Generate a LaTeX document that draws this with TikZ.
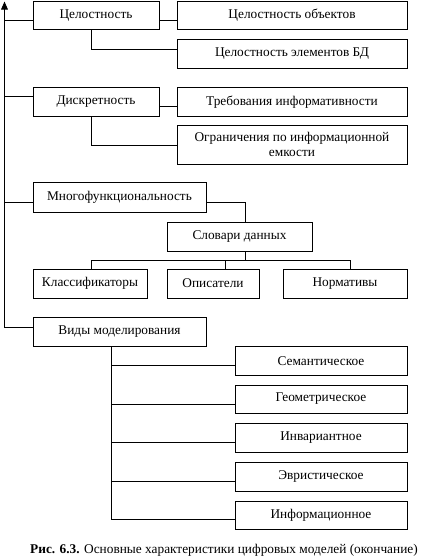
\documentclass[tikz,border=0pt]{standalone}
\usepackage{fontspec}
\setmainfont{Liberation Serif}
\usetikzlibrary{arrows.meta}
\newcommand\mybox[6]{%
  \pgfmathsetmacro\bw{(#4-#2)*0.75}%
  \pgfmathsetmacro\bh{(#5-#3)*0.75}%
  \node[box,minimum width=\bw pt,minimum height=\bh pt] (#1) at ({(#2+#4)/2},{(#3+#5)/2}) {#6};}
\begin{document}
\begin{tikzpicture}[x=0.75pt,y=-0.75pt,
  box/.style={draw,line width=0.75pt,inner sep=0pt,align=center,font=\fontsize{10}{11.5}\selectfont},
  conn/.style={line width=0.75pt},
  captxt/.style={font=\fontsize{10}{11.5}\selectfont,inner sep=0pt}]
\useasboundingbox (0,0) rectangle (447,558);
% boxes
\mybox{A}{33}{1.5}{159}{29}{Целостность}
\mybox{A1}{177}{1.5}{407}{29}{Целостность объектов}
\mybox{A2}{177}{39.5}{407}{68}{Целостность элементов БД}
\mybox{B}{33}{87}{159}{116.5}{Дискретность}
\mybox{B1}{177}{87}{407}{116.5}{Требования информативности}
\mybox{B2}{177}{125.5}{407}{164}{Ограничения по информационной\\емкости}
\mybox{C}{33}{182.5}{206}{212}{Многофункциональность}
\mybox{C0}{167}{222}{312}{251}{Словари данных}
\mybox{C1}{33}{269}{147}{298}{Классификаторы}
\mybox{C2}{167}{269}{259}{298}{Описатели}
\mybox{C3}{283}{269}{407}{298}{Нормативы}
\mybox{D}{33}{317}{206}{346}{Виды моделирования}
\mybox{D1}{235}{346.5}{407}{375}{Семантическое}
\mybox{D2}{235}{385}{407}{413}{Геометрическое}
\mybox{D3}{235}{423}{407}{452}{Инвариантное}
\mybox{D4}{235}{462}{407}{491}{Эвристическое}
\mybox{D5}{235}{501}{407}{529}{Информационное}
\node[captxt] (cap) at (224,550) {\textbf{Рис. 6.3.} Основные характеристики цифровых моделей (окончание)};
% main spine
\coordinate (top) at (4.5,1.5);
\draw[conn,-{Triangle[length=6pt,width=5pt]}] (D.west |- 0,327) -| (top);
\draw[conn] (A.west |- 0,20.7) -- (top |- 0,20.7);
\draw[conn] (B.west |- 0,96.7) -- (top |- 0,96.7);
\draw[conn] (C.west |- 0,202) -- (top |- 0,202);
% group A
\draw[conn] (A.east |- 0,20.5) -- (A1.west |- 0,20.5);
\draw[conn] (A.south -| 91,0) |- (A2.west |- 0,49.3);
% group B
\draw[conn] (B.east |- 0,106.5) -- (B1.west |- 0,106.5);
\draw[conn] (B.south -| 91,0) |- (B2.west |- 0,145);
% group C
\draw[conn] (C.east |- 0,202) -| (C0.north -| 245,0);
\coordinate (bl) at (91,260);
\coordinate (bm) at (225,260);
\coordinate (bc) at (245,260);
\coordinate (br) at (350,260);
\draw[conn] (C0.south -| bc) -- (bc);
\draw[conn] (C1.north -| bl) -- (bl) -- (br) -- (C3.north -| br);
\draw[conn] (C2.north -| bm) -- (bm);
% group D
\draw[conn] (D.south -| 111,0) |- (D5.west |- 0,519);
\draw[conn] (D.south -| 111,0) |- (D1.west |- 0,365);
\draw[conn] (D.south -| 111,0) |- (D2.west |- 0,404);
\draw[conn] (D.south -| 111,0) |- (D3.west |- 0,442);
\draw[conn] (D.south -| 111,0) |- (D4.west |- 0,481);
\end{tikzpicture}
\end{document}
